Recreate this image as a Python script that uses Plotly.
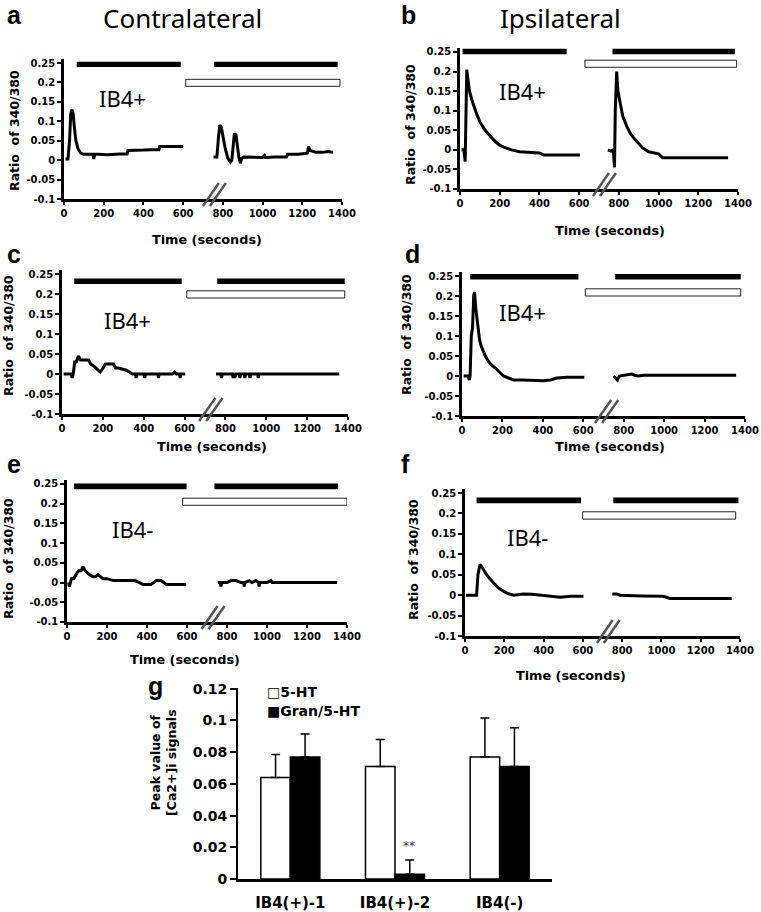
import plotly.graph_objects as go

W, H = 761, 912

# ---------------- data ----------------
x_ticks = [0, 200, 400, 600, 800, 1000, 1200, 1400]
x_tick_labels = ["0", "200", "400", "600", "800", "1000", "1200", "1400"]
y_ticks = [-0.1, -0.05, 0, 0.05, 0.1, 0.15, 0.2, 0.25]
y_tick_labels = ["-0.1", "-0.05", "0", "0.05", "0.1", "0.15", "0.2", "0.25"]

# panel a  (contralateral, IB4+)
a_t1 = [8, 20, 28, 34, 40, 46, 52, 60, 70, 84, 100, 130, 146, 150, 154, 170, 220, 280, 318, 322, 360, 400, 440, 478, 482, 520, 560, 600]
a_v1 = [0.003, 0.003, 0.05, 0.12, 0.13, 0.12, 0.085, 0.05, 0.03, 0.018, 0.015, 0.015, 0.015, 0.003, 0.015, 0.015, 0.014, 0.016, 0.016, 0.025, 0.025, 0.026, 0.027, 0.027, 0.035, 0.035, 0.036, 0.035]
a_t2 = [753, 770, 778, 785, 792, 800, 812, 825, 838, 845, 852, 858, 866, 872, 880, 888, 895, 905, 950, 1000, 1010, 1015, 1060, 1120, 1126, 1180, 1225, 1232, 1240, 1270, 1300, 1330, 1355]
a_v2 = [0.008, 0.008, 0.06, 0.09, 0.085, 0.06, 0.03, 0.005, -0.005, 0.0, 0.04, 0.068, 0.065, 0.04, 0.01, -0.008, 0.005, 0.008, 0.007, 0.007, 0.012, 0.007, 0.008, 0.008, 0.015, 0.015, 0.018, 0.035, 0.025, 0.02, 0.02, 0.022, 0.02]
a_black_start = [64, 756]
a_black_end = [588, 1378]
a_white_start = [613]
a_white_end = [1390]

# panel b  (ipsilateral, IB4+)
b_t1 = [8, 20, 26, 30, 34, 40, 48, 58, 70, 85, 100, 120, 140, 160, 180, 200, 220, 260, 300, 400, 420, 500, 604]
b_v1 = [0.0, 0.0, -0.03, 0.15, 0.205, 0.18, 0.15, 0.13, 0.11, 0.09, 0.072, 0.055, 0.042, 0.03, 0.02, 0.012, 0.007, 0.0, -0.005, -0.008, -0.013, -0.013, -0.013]
b_t2 = [745, 760, 772, 778, 782, 789, 795, 805, 820, 840, 860, 880, 900, 920, 950, 1000, 1020, 1100, 1200, 1350]
b_v2 = [0.0, -0.003, 0.0, -0.045, 0.1, 0.2, 0.15, 0.12, 0.085, 0.06, 0.04, 0.027, 0.015, 0.005, -0.005, -0.01, -0.02, -0.02, -0.02, -0.02]
b_black_start = [13, 768]
b_black_end = [537, 1384]
b_white_start = [629]
b_white_end = [1393]

# panel c  (contralateral, IB4+)
c_t1 = [8, 45, 50, 55, 62, 70, 80, 90, 130, 140, 155, 165, 175, 187, 195, 205, 212, 252, 262, 275, 300, 312, 330, 345, 360, 363, 366, 400, 405, 409, 470, 472, 475, 540, 550, 560, 575, 578, 582, 603]
c_v1 = [0, 0, -0.01, 0, 0.03, 0.03, 0.045, 0.035, 0.035, 0.025, 0.02, 0.015, 0.01, 0.005, 0.01, 0.02, 0.025, 0.025, 0.015, 0.015, 0.012, 0.01, 0.005, 0.0, 0.0, -0.01, 0, 0, -0.01, 0, 0, -0.01, 0, 0, 0.005, 0.0, 0, -0.01, 0, 0]
c_t2 = [754, 778, 781, 784, 835, 838, 842, 846, 850, 868, 871, 874, 892, 895, 898, 917, 920, 923, 958, 961, 964, 1357]
c_v2 = [0, 0, -0.01, 0, 0, -0.01, 0, -0.01, 0, 0, -0.01, 0, 0, -0.01, 0, 0, -0.01, 0, 0, -0.01, 0, 0]
c_black_start = [60, 760]
c_black_end = [586, 1384]
c_white_start = [611]
c_white_end = [1384]

# panel d  (ipsilateral, IB4+)
d_t1 = [8, 30, 36, 40, 46, 52, 58, 62, 68, 74, 80, 87, 95, 105, 115, 130, 145, 165, 185, 205, 230, 255, 300, 354, 400, 437, 470, 520, 552, 605]
d_v1 = [0, 0, -0.01, 0, 0.1, 0.12, 0.2, 0.21, 0.17, 0.14, 0.11, 0.09, 0.075, 0.06, 0.05, 0.037, 0.028, 0.02, 0.01, 0.0, -0.005, -0.01, -0.01, -0.012, -0.012, -0.01, -0.005, -0.003, -0.003, -0.003]
d_t2 = [750, 760, 769, 778, 800, 820, 840, 855, 873, 900, 1000, 1200, 1356]
d_v2 = [0, -0.005, -0.01, 0.0, 0.002, 0.003, 0.005, 0.002, 0.0, 0.002, 0.002, 0.002, 0.002]
d_black_start = [41, 758]
d_black_end = [576, 1379]
d_white_start = [610]
d_white_end = [1379]

# panel e  (contralateral, IB4-)
e_t1 = [8, 12, 17, 22, 33, 45, 58, 70, 80, 91, 100, 113, 130, 141, 155, 166, 180, 199, 215, 232, 260, 298, 340, 381, 420, 447, 470, 497, 540, 596]
e_v1 = [0, -0.01, 0, 0.01, 0.01, 0.02, 0.03, 0.03, 0.04, 0.03, 0.025, 0.02, 0.015, 0.015, 0.02, 0.015, 0.01, 0.01, 0.008, 0.005, 0.005, 0.005, 0.005, -0.005, -0.005, 0.005, 0.005, -0.005, -0.005, -0.005]
e_t2 = [754, 766, 770, 774, 800, 820, 835, 845, 870, 883, 886, 889, 911, 925, 944, 958, 961, 964, 1000, 1019, 1025, 1350]
e_v2 = [0, 0, -0.01, 0, 0, 0.005, 0.005, 0.005, 0.0, 0.0, -0.01, 0, 0.005, 0.0, 0.005, 0, -0.01, 0, 0, 0.005, 0, 0]
e_black_start = [35, 737]
e_black_end = [598, 1355]
e_white_start = [578]
e_white_end = [1400]

# panel f  (ipsilateral, IB4-)
f_t1 = [5, 40, 59, 66, 76, 85, 93, 110, 127, 144, 161, 178, 195, 212, 246, 297, 340, 382, 430, 484, 540, 603]
f_v1 = [0, 0, 0.0, 0.05, 0.075, 0.07, 0.063, 0.05, 0.04, 0.03, 0.022, 0.015, 0.01, 0.005, 0.0, 0.003, 0.002, 0.0, -0.002, -0.005, -0.003, -0.003]
f_t2 = [750, 770, 790, 850, 900, 1010, 1044, 1100, 1200, 1300, 1358]
f_v2 = [0.003, 0.003, 0.0, -0.002, -0.002, -0.003, -0.008, -0.008, -0.008, -0.008, -0.008]
f_black_start = [59, 755]
f_black_end = [591, 1392]
f_white_start = [599]
f_white_end = [1378]

# panel g  (bar chart)
g_categories = ["IB4(+)-1", "IB4(+)-2", "IB4(-)"]
g_5ht = [0.064, 0.071, 0.077]
g_5ht_err = [0.0145, 0.017, 0.0245]
g_gran = [0.077, 0.003, 0.071]
g_gran_err = [0.0145, 0.009, 0.0245]

# ---------------- layout helpers ----------------
FONT_BOLD = dict(family="DejaVu Sans", color="black", weight="bold")


def px_x(p):
    return p / W


def px_y(p):
    return 1 - p / H


def note(text, x, y, **kw):
    d = dict(text=text, x=px_x(x), y=px_y(y), xref="paper", yref="paper", showarrow=False,
             xanchor="center", yanchor="middle")
    d.update(kw)
    return d


panels = [
    dict(t1=a_t1, v1=a_v1, t2=a_t2, v2=a_v2, bs=a_black_start, be=a_black_end, ws=a_white_start, we=a_white_end,
         px=(64, 342), py=(63, 199), by=0.2465, wy=0.199, brk=755, lab="IB4+", lxy=(122, 98),
         yt=(15, 131), xt=(207, 240), let="a", letxy=(14, 15)),
    dict(t1=b_t1, v1=b_v1, t2=b_t2, v2=b_v2, bs=b_black_start, be=b_black_end, ws=b_white_start, we=b_white_end,
         px=(460, 738), py=(52, 189), by=0.251, wy=0.22, brk=725, lab="IB4+", lxy=(522, 91),
         yt=(410, 125), xt=(610, 230), let="b", letxy=(408, 15)),
    dict(t1=c_t1, v1=c_v1, t2=c_t2, v2=c_v2, bs=c_black_start, be=c_black_end, ws=c_white_start, we=c_white_end,
         px=(62, 348), py=(274, 414), by=0.232, wy=0.199, brk=726, lab="IB4+", lxy=(127, 320),
         yt=(8, 336), xt=(212, 447), let="c", letxy=(14, 254)),
    dict(t1=d_t1, v1=d_v1, t2=d_t2, v2=d_v2, bs=d_black_start, be=d_black_end, ws=d_white_start, we=d_white_end,
         px=(462, 745), py=(276, 416), by=0.248, wy=0.209, brk=713, lab="IB4+", lxy=(522, 312),
         yt=(406, 335), xt=(610, 447), let="d", letxy=(412, 254)),
    dict(t1=e_t1, v1=e_v1, t2=e_t2, v2=e_v2, bs=e_black_start, be=e_black_end, ws=e_white_start, we=e_white_end,
         px=(67, 347), py=(484, 622), by=0.244, wy=0.205, brk=728, lab="IB4-", lxy=(132, 529),
         yt=(8, 559), xt=(185, 659), let="e", letxy=(14, 464)),
    dict(t1=f_t1, v1=f_v1, t2=f_t2, v2=f_v2, bs=f_black_start, be=f_black_end, ws=f_white_start, we=f_white_end,
         px=(465, 740), py=(493, 636), by=0.232, wy=0.195, brk=727, lab="IB4-", lxy=(527, 537),
         yt=(413, 560), xt=(571, 675), let="f", letxy=(405, 464)),
]

fig = go.Figure()
layout = dict(width=W, height=H, margin=dict(l=0, r=0, t=0, b=0, autoexpand=False),
              plot_bgcolor="white", paper_bgcolor="white", showlegend=False)
shapes, annotations = [], []

Y_LO, Y_HI, Y_TOP_TICK = -0.1, 0.26, 0.25

for i, p in enumerate(panels, start=1):
    xn, yn = f"x{i}", f"y{i}"
    xk = "xaxis" if i == 1 else f"xaxis{i}"
    yk = "yaxis" if i == 1 else f"yaxis{i}"
    scale = (p["py"][1] - p["py"][0]) / (Y_TOP_TICK - Y_LO)
    top_px = p["py"][0] - (Y_HI - Y_TOP_TICK) * scale
    layout[xk] = dict(domain=[px_x(p["px"][0]), px_x(p["px"][1])], anchor=yn, range=[0, 1400],
                      tickvals=x_ticks, ticktext=x_tick_labels, showline=True, linewidth=2.5,
                      linecolor="black", ticks="outside", ticklen=3, tickwidth=1.5, tickcolor="black",
                      showgrid=False, zeroline=False, automargin=False,
                      tickfont=dict(size=10, **FONT_BOLD))
    layout[yk] = dict(domain=[px_y(p["py"][1]), px_y(top_px)], anchor=xn, range=[Y_LO, Y_HI],
                      tickvals=y_ticks, ticktext=y_tick_labels, showline=True, linewidth=2.5,
                      linecolor="black", ticks="outside", ticklen=4, tickwidth=1.5, tickcolor="black",
                      showgrid=False, zeroline=False, automargin=False,
                      tickfont=dict(size=10, **FONT_BOLD))
    fig.add_trace(go.Scatter(x=p["t1"] + [None] + p["t2"], y=p["v1"] + [None] + p["v2"],
                             mode="lines", line=dict(color="black", width=3),
                             connectgaps=False, xaxis=xn, yaxis=yn, hoverinfo="skip"))
    for s, e in zip(p["bs"], p["be"]):
        shapes.append(dict(type="rect", xref=xn, yref=yn, x0=s, x1=e, y0=p["by"] - 0.007,
                           y1=p["by"] + 0.007, fillcolor="black", line=dict(width=0)))
    for s, e in zip(p["ws"], p["we"]):
        shapes.append(dict(type="rect", xref=xn, yref=yn, x0=s, x1=e, y0=p["wy"] - 0.009,
                           y1=p["wy"] + 0.009, fillcolor="white", line=dict(color="#222", width=1)))
    # axis-break marks
    yb = p["py"][1]
    for off in (-55, -20):
        shapes.append(dict(type="line", xref=xn, yref="paper", x0=p["brk"] + off, x1=p["brk"] + off + 80,
                           y0=px_y(yb + 7), y1=px_y(yb - 16), line=dict(color="#555", width=2.5)))
    annotations.append(note(p["lab"], *p["lxy"], font=dict(family="Noto Sans", size=22, color="black")))
    annotations.append(note("Ratio  of 340/380", *p["yt"], textangle=-90, font=dict(size=12.5, **FONT_BOLD)))
    annotations.append(note("Time (seconds)", *p["xt"], font=dict(size=12.8, **FONT_BOLD)))
    annotations.append(note(p["let"], *p["letxy"],
                            font=dict(family="Liberation Sans", size=25, color="black", weight="bold")))

# headings
annotations.append(note("Contralateral", 182, 18, font=dict(family="Noto Sans", size=26, color="black")))
annotations.append(note("Ipsilateral", 560, 18, font=dict(family="Noto Sans", size=26, color="black")))

# ---------------- panel g ----------------
fig.add_trace(go.Bar(x=g_categories, y=g_5ht, name="5-HT", xaxis="x7", yaxis="y7",
                     marker=dict(color="white", line=dict(color="black", width=1.5)),
                     error_y=dict(type="data", symmetric=False, array=g_5ht_err, arrayminus=[0, 0, 0],
                                  color="black", thickness=1.5, width=4.5)))
fig.add_trace(go.Bar(x=g_categories, y=g_gran, name="Gran/5-HT", xaxis="x7", yaxis="y7",
                     marker=dict(color="black", line=dict(color="black", width=1.5)),
                     error_y=dict(type="data", symmetric=False, array=g_gran_err, arrayminus=[0, 0, 0],
                                  color="black", thickness=1.5, width=4.5)))
layout["barmode"] = "group"
layout["bargap"] = 0.436
layout["bargroupgap"] = 0
layout["xaxis7"] = dict(domain=[px_x(238), px_x(552)], anchor="y7", showline=True, linewidth=2.5,
                        linecolor="black", ticks="", showgrid=False, zeroline=False, automargin=False,
                        ticklabelstandoff=8, tickfont=dict(size=15, **FONT_BOLD))
layout["yaxis7"] = dict(domain=[px_y(879), px_y(688)], anchor="x7", range=[0, 0.1205], dtick=0.02,
                        showline=True, linewidth=2, linecolor="black", ticks="outside", ticklen=6,
                        tickwidth=1.5, tickcolor="black", showgrid=False, zeroline=False, automargin=False,
                        tickfont=dict(size=14, **FONT_BOLD))
annotations.append(note("Peak value of<br>[Ca2+]i signals", 163, 763, textangle=-90,
                        font=dict(size=12.5, **FONT_BOLD)))
annotations.append(note("□5-HT", 265, 692, xanchor="left", font=dict(size=14, **FONT_BOLD)))
annotations.append(note("■Gran/5-HT", 265, 711, xanchor="left", font=dict(size=14, **FONT_BOLD)))
annotations.append(dict(text="**", x=g_categories[1], y=g_gran[1] + g_gran_err[1], xref="x7", yref="y7",
                        xanchor="center", yanchor="middle", xshift=14, yshift=14, showarrow=False,
                        font=dict(size=12, family="DejaVu Sans", color="#333")))
annotations.append(note("g", 155, 686, font=dict(family="Liberation Sans", size=25, color="black",
                                                  weight="bold")))

layout["shapes"] = shapes
layout["annotations"] = annotations
fig.update_layout(**layout)
fig.write_html("out.html", config={"displayModeBar": False},
               post_script="document.body.style.margin='0';")
